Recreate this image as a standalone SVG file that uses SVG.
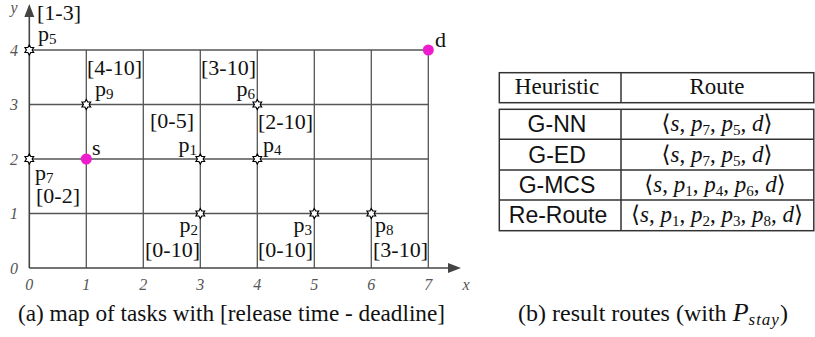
<svg xmlns="http://www.w3.org/2000/svg" xmlns:xlink="http://www.w3.org/1999/xlink" width="815" height="337" viewBox="0 0 815 337">
<style>
.grid{stroke:#555;stroke-width:1.3;fill:none}
.axis{stroke:#444;stroke-width:1.6;fill:none}
.tick{font-family:"Liberation Serif",serif;font-style:italic;font-size:16px;fill:#555}
.lbl{font-family:"Liberation Serif",serif;font-size:22px;fill:#111}
.sub{font-size:15px}
.tb{stroke:#333;stroke-width:1.5;fill:none}
.hd{font-family:"Liberation Serif",serif;font-size:23px;fill:#111}
.hs{font-family:"Liberation Sans",Arial,sans-serif;font-size:23px;fill:#111}
.math{font-family:"Liberation Serif","DejaVu Serif",serif;font-size:23px;fill:#111}
.it{font-style:italic}
.cap{font-family:"Liberation Serif",serif;font-size:24px;fill:#111}
.pt{fill:#ee1ccc}
</style>
<defs>
<path id="star" d="M0,-5 L1.45,-2.51 L4.33,-2.5 L2.9,0 L4.33,2.5 L1.45,2.51 L0,5 L-1.45,2.51 L-4.33,2.5 L-2.9,0 L-4.33,-2.5 L-1.45,-2.51 Z" fill="#fff" stroke="#000" stroke-width="1.2"/>
</defs>
<g id="connectors">
<g class="grid">
<path d="M86.3,50V268M143.3,50V268M200.3,50V268M257.3,50V268M314.3,50V268M371.3,50V268M428.3,50V268"/>
<path d="M29.3,50H428.3M29.3,104.5H428.3M29.3,159H428.3M29.3,213.5H428.3"/>
</g>
<g class="axis">
<path d="M29.3,268V15"/>
<path d="M29.3,268H450"/>
</g>
<path d="M29.3,4 L24.3,17 L34.3,17 Z" fill="#444"/>
<path d="M461,268 L448,263 L448,273 Z" fill="#444"/>
</g>
<g id="ticks" class="tick">
<text x="14" y="13" text-anchor="middle">y</text>
<text x="466" y="290" text-anchor="middle">x</text>
<text x="14" y="274" text-anchor="middle">0</text>
<text x="14" y="219" text-anchor="middle">1</text>
<text x="14" y="165" text-anchor="middle">2</text>
<text x="14" y="110" text-anchor="middle">3</text>
<text x="14" y="56" text-anchor="middle">4</text>
<text x="29.3" y="290" text-anchor="middle">0</text>
<text x="86.3" y="290" text-anchor="middle">1</text>
<text x="143.3" y="290" text-anchor="middle">2</text>
<text x="200.3" y="290" text-anchor="middle">3</text>
<text x="257.3" y="290" text-anchor="middle">4</text>
<text x="314.3" y="290" text-anchor="middle">5</text>
<text x="371.3" y="290" text-anchor="middle">6</text>
<text x="428.3" y="290" text-anchor="middle">7</text>
</g>
<g id="p5"><use xlink:href="#star" x="29.3" y="50"/><text class="lbl" x="37" y="20">[1-3]</text><text class="lbl" x="38" y="41">p<tspan class="sub" dy="3">5</tspan></text></g>
<g id="p9"><use xlink:href="#star" x="86.3" y="104.5"/><text class="lbl" x="87" y="75">[4-10]</text><text class="lbl" x="95" y="96">p<tspan class="sub" dy="3">9</tspan></text></g>
<g id="p6"><use xlink:href="#star" x="257.3" y="104.5"/><text class="lbl" x="256" y="75" text-anchor="end">[3-10]</text><text class="lbl" x="255" y="96" text-anchor="end">p<tspan class="sub" dy="3">6</tspan></text></g>
<g id="p1"><use xlink:href="#star" x="200.3" y="159"/><text class="lbl" x="194" y="128" text-anchor="end">[0-5]</text><text class="lbl" x="197" y="152" text-anchor="end">p<tspan class="sub" dy="3">1</tspan></text></g>
<g id="p4"><use xlink:href="#star" x="257.3" y="159"/><text class="lbl" x="258" y="129">[2-10]</text><text class="lbl" x="263" y="152">p<tspan class="sub" dy="3">4</tspan></text></g>
<g id="s"><circle class="pt" cx="86.3" cy="159" r="5.5"/><text class="lbl" x="92" y="155">s</text></g>
<g id="d"><circle class="pt" cx="428.3" cy="50" r="5.5"/><text class="lbl" x="435" y="47">d</text></g>
<g id="p7"><use xlink:href="#star" x="29.3" y="159"/><text class="lbl" x="35" y="180">p<tspan class="sub" dy="3">7</tspan></text><text class="lbl" x="36" y="203">[0-2]</text></g>
<g id="p2"><use xlink:href="#star" x="200.3" y="213.5"/><text class="lbl" x="198" y="232" text-anchor="end">p<tspan class="sub" dy="3">2</tspan></text><text class="lbl" x="200" y="257" text-anchor="end">[0-10]</text></g>
<g id="p3"><use xlink:href="#star" x="314.3" y="213.5"/><text class="lbl" x="312" y="232" text-anchor="end">p<tspan class="sub" dy="3">3</tspan></text><text class="lbl" x="313" y="257" text-anchor="end">[0-10]</text></g>
<g id="p8"><use xlink:href="#star" x="371.3" y="213.5"/><text class="lbl" x="375" y="232">p<tspan class="sub" dy="3">8</tspan></text><text class="lbl" x="373" y="257">[3-10]</text></g>
<g id="table">
<rect class="tb" x="499.3" y="72.7" width="314.5" height="30"/>
<path class="tb" d="M621,72.7V102.7"/>
<rect class="tb" x="499.3" y="109.3" width="314.5" height="121.4"/>
<path class="tb" d="M621,109.3V230.7M499.3,139.3H813.8M499.3,170H813.8M499.3,200H813.8"/>
<text class="hd" x="557" y="94" text-anchor="middle">Heuristic</text>
<text class="hd" x="717" y="94" text-anchor="middle">Route</text>
<text class="hs" x="557" y="132" text-anchor="middle">G-NN</text>
<text class="hs" x="557" y="163" text-anchor="middle">G-ED</text>
<text class="hs" x="557" y="193" text-anchor="middle">G-MCS</text>
<text class="hs" x="558" y="223" text-anchor="middle">Re-Route</text>
<text class="math" x="717" y="131" text-anchor="middle">⟨<tspan class="it">s</tspan>, <tspan class="it">p</tspan><tspan class="sub" dy="4">7</tspan><tspan dy="-4">, </tspan><tspan class="it">p</tspan><tspan class="sub" dy="4">5</tspan><tspan dy="-4">, </tspan><tspan class="it">d</tspan>⟩</text>
<text class="math" x="717" y="162" text-anchor="middle">⟨<tspan class="it">s</tspan>, <tspan class="it">p</tspan><tspan class="sub" dy="4">7</tspan><tspan dy="-4">, </tspan><tspan class="it">p</tspan><tspan class="sub" dy="4">5</tspan><tspan dy="-4">, </tspan><tspan class="it">d</tspan>⟩</text>
<text class="math" x="715" y="192" text-anchor="middle">⟨<tspan class="it">s</tspan>, <tspan class="it">p</tspan><tspan class="sub" dy="4">1</tspan><tspan dy="-4">, </tspan><tspan class="it">p</tspan><tspan class="sub" dy="4">4</tspan><tspan dy="-4">, </tspan><tspan class="it">p</tspan><tspan class="sub" dy="4">6</tspan><tspan dy="-4">, </tspan><tspan class="it">d</tspan>⟩</text>
<text class="math" x="717" y="222" text-anchor="middle">⟨<tspan class="it">s</tspan>, <tspan class="it">p</tspan><tspan class="sub" dy="4">1</tspan><tspan dy="-4">, </tspan><tspan class="it">p</tspan><tspan class="sub" dy="4">2</tspan><tspan dy="-4">, </tspan><tspan class="it">p</tspan><tspan class="sub" dy="4">3</tspan><tspan dy="-4">, </tspan><tspan class="it">p</tspan><tspan class="sub" dy="4">8</tspan><tspan dy="-4">, </tspan><tspan class="it">d</tspan>⟩</text>
</g>
<g id="captions">
<text class="cap" x="18" y="321" textLength="427" lengthAdjust="spacingAndGlyphs">(a) map of tasks with [release time - deadline]</text>
<text class="cap" x="518" y="321">(b) result routes (with <tspan class="it" font-size="26">P</tspan><tspan class="it" font-size="17" dy="4" letter-spacing="1">stay</tspan><tspan dy="-4">)</tspan></text>
</g>
</svg>
